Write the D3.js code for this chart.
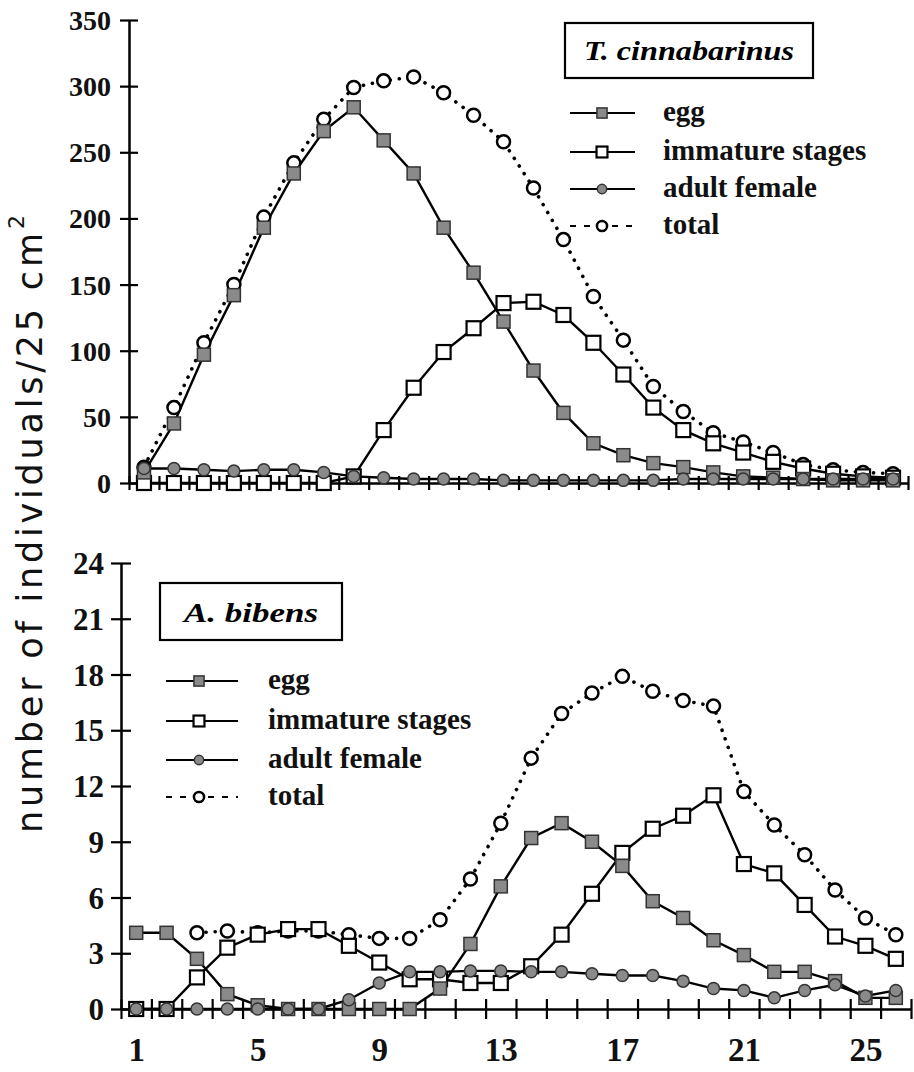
<!DOCTYPE html>
<html>
<head>
<meta charset="utf-8">
<script src="https://cdn.jsdelivr.net/npm/d3@7/dist/d3.min.js"></script>
<style>
  html, body { margin: 0; padding: 0; background: #fff; }
  svg { display: block; }
</style>
</head>
<body>
<svg id="chart" width="914" height="1072"></svg>
<script>
// ---- data ----
const days = [1, 2, 3, 4, 5, 6, 7, 8, 9, 10, 11, 12, 13, 14, 15, 16, 17, 18, 19, 20, 21, 22, 23, 24, 25, 26];
const seriesNames = ["egg", "immature stages", "adult female", "total"];

// T. cinnabarinus (top panel)
const tcEgg      = [8, 45, 97, 142, 193, 234, 266, 284, 259, 234, 193, 159, 122, 85, 53, 30, 21, 15, 12, 8, 5, 4, 3, 2, 2, 2];
const tcImmature = [0, 0, 0, 0, 0, 0, 0, 5, 40, 72, 99, 117, 136, 137, 127, 106, 82, 57, 40, 30, 23, 16, 11, 7, 5, 4];
const tcAdult    = [11, 11, 10, 9, 10, 10, 8, 5, 4, 3, 3, 3, 2, 2, 2, 2, 2, 2, 3, 3, 3, 3, 3, 3, 3, 3];
const tcTotal    = [12, 57, 106, 150, 201, 242, 275, 299, 304, 307, 295, 278, 258, 223, 184, 141, 108, 73, 54, 38, 31, 23, 14, 10, 8, 7];

// A. bibens (bottom panel)
const abEgg      = [4.1, 4.1, 2.7, 0.8, 0.2, 0, 0, 0, 0, 0, 1.1, 3.5, 6.6, 9.2, 10.0, 9.0, 7.7, 5.8, 4.9, 3.7, 2.9, 2.0, 2.0, 1.5, 0.6, 0.6];
const abImmature = [0, 0, 1.7, 3.3, 4.0, 4.3, 4.3, 3.4, 2.5, 1.6, 1.6, 1.4, 1.4, 2.3, 4.0, 6.2, 8.4, 9.7, 10.4, 11.5, 7.8, 7.3, 5.6, 3.9, 3.4, 2.7];
const abAdult    = [0, 0, 0, 0, 0, 0, 0, 0.5, 1.4, 2.0, 2.0, 2.05, 2.05, 2.0, 2.0, 1.9, 1.8, 1.8, 1.5, 1.1, 1.0, 0.6, 1.0, 1.3, 0.7, 1.0];
const abTotal    = [null, null, 4.1, 4.2, 4.1, 4.2, 4.2, 4.0, 3.8, 3.8, 4.8, 7.0, 10.0, 13.5, 15.9, 17.0, 17.9, 17.1, 16.6, 16.3, 11.7, 9.9, 8.3, 6.4, 4.9, 4.0];

const tcTicks = [0, 50, 100, 150, 200, 250, 300, 350];
const abTicks = [0, 3, 6, 9, 12, 15, 18, 21, 24];
const dayLabels = [1, 5, 9, 13, 17, 21, 25];

const svg = d3.select("#chart");
const serif = "'Liberation Serif', 'Times New Roman', serif";
const GRAY = "#8a8a8a";

// marker drawers, one per series (order follows seriesNames)
function marker(sel, kind, cx, cy, small) {
  const k = small ? 0.78 : 1;
  if (kind === 0) {          // egg: grey filled square
    const s = 13 * k;
    sel.append("rect").attr("x", cx - s / 2).attr("y", cy - s / 2).attr("width", s).attr("height", s)
      .attr("fill", GRAY).attr("stroke", "#333").attr("stroke-width", 1.5);
  } else if (kind === 1) {   // immature: open square
    const s = 14 * k;
    sel.append("rect").attr("x", cx - s / 2).attr("y", cy - s / 2).attr("width", s).attr("height", s)
      .attr("fill", "#fff").attr("stroke", "#000").attr("stroke-width", 2.2);
  } else if (kind === 2) {   // adult female: small grey circle
    sel.append("circle").attr("cx", cx).attr("cy", cy).attr("r", 6 * k)
      .attr("fill", GRAY).attr("stroke", "#333").attr("stroke-width", 1.5);
  } else {                   // total: open circle
    sel.append("circle").attr("cx", cx).attr("cy", cy).attr("r", 6.5 * k)
      .attr("fill", "#fff").attr("stroke", "#000").attr("stroke-width", 2.5);
  }
}

function drawPanel(p) {
  const x = d3.scaleLinear().domain([0.5, 26.5]).range([p.left, p.right]);
  const y = d3.scaleLinear().domain([0, p.yMax]).range([p.bottom, p.top]);
  const g = svg.append("g");

  // y axis with ticks crossing the line
  const ya = g.append("g").attr("transform", `translate(${p.left},0)`)
    .call(d3.axisLeft(y).tickValues(p.yTicks).tickSize(p.yTick).tickSizeOuter(0));
  ya.selectAll(".tick line").attr("x1", p.yTick).attr("x2", -p.yTick).attr("stroke-width", 2.2);
  ya.selectAll(".tick text").attr("x", -p.labelOff).attr("dy", "0.34em")
    .style("font-family", serif).style("font-weight", "bold").style("font-size", p.yFont + "px").attr("fill", "#111");
  ya.select(".domain").attr("stroke-width", 2.5);

  // x axis: ticks sit between the days
  const bounds = [0.5].concat(days.map(d => d + 0.5));
  const xa = g.append("g").attr("transform", `translate(0,${p.bottom})`)
    .call(d3.axisBottom(x).tickValues(bounds).tickFormat("").tickSize(p.xTick).tickSizeOuter(0));
  xa.selectAll(".tick line").attr("y1", -p.xTick).attr("y2", p.xTick).attr("stroke-width", 2.2);
  xa.select(".domain").attr("stroke-width", 2.5);

  if (p.showDays) {
    const xl = g.append("g").attr("transform", `translate(0,${p.bottom})`)
      .call(d3.axisBottom(x).tickValues(dayLabels).tickSize(0).tickPadding(29));
    xl.select(".domain").remove();
    xl.selectAll(".tick text").style("font-family", serif).style("font-weight", "bold")
      .style("font-size", "33px").attr("fill", "#111");
  }

  const line = d3.line().defined(d => d.v != null).x(d => x(d.day)).y(d => y(d.v));
  // draw order: total, immature, egg, adult
  const order = [3, 1, 0, 2];
  order.forEach(k => {
    const pts = days.map((d, i) => ({ day: d, v: p.series[k][i] }));
    g.append("path").datum(pts).attr("d", line).attr("fill", "none")
      .attr("stroke", "#000")
      .attr("stroke-width", k === 3 ? 3.6 : 2.4)
      .attr("stroke-linecap", k === 3 ? "round" : "butt")
      .attr("stroke-dasharray", k === 3 ? "0.1,9" : null);
  });
  order.forEach(k => {
    const mg = g.append("g");
    days.forEach((d, i) => {
      const v = p.series[k][i];
      if (v != null) marker(mg, k, x(d), y(v), false);
    });
  });

  // species box
  const b = p.box;
  g.append("rect").attr("x", b.x).attr("y", b.y).attr("width", b.w).attr("height", b.h)
    .attr("fill", "#fff").attr("stroke", "#000").attr("stroke-width", 2.2);
  g.append("text").attr("x", b.x + b.w / 2).attr("y", b.ty).attr("text-anchor", "middle")
    .attr("textLength", b.tl).attr("lengthAdjust", "spacingAndGlyphs")
    .style("font-family", serif).style("font-style", "italic").style("font-weight", "bold")
    .style("font-size", "28px").text(b.label);

  // legend
  const L = p.legend;
  seriesNames.forEach((name, k) => {
    const ly = L.rows[k];
    g.append("line").attr("x1", L.x0).attr("x2", L.x1).attr("y1", ly).attr("y2", ly)
      .attr("stroke", "#000").attr("stroke-width", 2)
      .attr("stroke-dasharray", k === 3 ? "6,8" : null);
    marker(g, k, L.mx, ly, true);
    g.append("text").attr("x", L.tx).attr("y", ly + 8)
      .style("font-family", serif).style("font-weight", "bold").style("font-size", "29px")
      .attr("fill", "#111").text(name);
  });
}

drawPanel({
  left: 129, right: 908, top: 20, bottom: 483, yMax: 350,
  yTicks: tcTicks, yTick: 9, xTick: 7, labelOff: 18, yFont: 28, showDays: false,
  series: [tcEgg, tcImmature, tcAdult, tcTotal],
  box: { x: 565, y: 23, w: 248, h: 55, ty: 60, tl: 210, label: "T. cinnabarinus" },
  legend: { x0: 570, x1: 635, mx: 602, tx: 663, rows: [113, 152, 189, 226] }
});

drawPanel({
  left: 121, right: 911, top: 563, bottom: 1009, yMax: 24,
  yTicks: abTicks, yTick: 10, xTick: 10, labelOff: 17, yFont: 31, showDays: true,
  series: [abEgg, abImmature, abAdult, abTotal],
  box: { x: 160, y: 583, w: 182, h: 57, ty: 622, tl: 134, label: "A. bibens" },
  legend: { x0: 166, x1: 238, mx: 199, tx: 268, rows: [681, 721, 760, 797] }
});

// shared y-axis title
svg.append("text").attr("transform", "translate(42,533) rotate(-90)")
  .attr("text-anchor", "middle").attr("textLength", 600).attr("lengthAdjust", "spacing")
  .style("font-family", "'DejaVu Sans', sans-serif").style("font-size", "35px")
  .attr("fill", "#111").text("number of individuals/25 cm");
svg.append("text").attr("transform", "translate(24,222) rotate(-90)")
  .attr("text-anchor", "middle")
  .style("font-family", "'DejaVu Sans', sans-serif").style("font-size", "22px")
  .attr("fill", "#111").text("2");
</script>
</body>
</html>
